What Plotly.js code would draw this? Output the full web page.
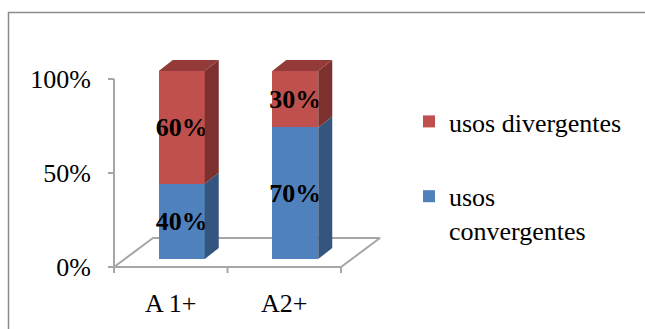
<!DOCTYPE html>
<html>
<head>
<meta charset="utf-8">
<script src="https://cdn.plot.ly/plotly-3.0.1.min.js"></script>
<style>
  html, body { margin: 0; padding: 0; background: #fff; }
  #chart { width: 645px; height: 329px; }
</style>
</head>
<body>
<div id="chart"></div>
<script>
// ---- data ----
const categories = ['A 1+', 'A2+'];
const convergentes = [40, 70];
const divergentes = [60, 30];
const seriesNames = ['usos<br>convergentes', 'usos divergentes'];
const yTickVals = [0, 50, 100];
const yTickText = ['0%', '50%', '100%'];

// ---- geometry of the oblique (3-D look) projection ----
const W = 645, H = 329;
const M = { l: 100, r: 225, t: 45, b: 44 };
const plotW = W - M.l - M.r, plotH = H - M.t - M.b;
const PX_X = 113.5;              // pixels per category slot
const PX_Y = 1.88;               // pixels per percent
const originX = 114, originY = 267;   // pixel spot of the front-left floor corner
const xRange = [-0.5 - (originX - M.l) / PX_X, -0.5 + (M.l + plotW - originX) / PX_X];
const yRange = [-(M.t + plotH - originY) / PX_Y, (originY - M.t) / PX_Y];

const floorDepth = [39 / PX_X, 29 / PX_Y];   // floor receding offset
const barFront = [11 / PX_X, 8 / PX_Y];      // bars stand a little behind the floor front
const barDepth = [14 / PX_X, 11 / PX_Y];     // thickness of each column
const barWidth = 46 / PX_X;

const FONT = '"Liberation Serif", "Times New Roman", serif';
const FS = 26;
const GRID = '#A6A6A6';
const colors = {
  front: ['#4F81BD', '#C0504D'],
  side:  ['#34557E', '#7D312F'],
  top:   ['#41699A', '#943B39']
};

const idx = categories.map((_, i) => i);
const stacks = [convergentes, divergentes];

// floor outline
const x0 = -0.5, x1 = categories.length - 0.5;
const floor = {
  x: [x0, x1, x1 + floorDepth[0], x0 + floorDepth[0], x0],
  y: [0, 0, floorDepth[1], floorDepth[1], 0],
  mode: 'lines', line: { color: GRID, width: 2 },
  hoverinfo: 'skip', showlegend: false, xaxis: 'x', yaxis: 'y'
};

// vertical value axis line
const valueAxis = {
  x: [x0, x0], y: [yTickVals[0], yTickVals[yTickVals.length - 1]],
  mode: 'lines', line: { color: GRID, width: 2 },
  hoverinfo: 'skip', showlegend: false, xaxis: 'x', yaxis: 'y'
};

// category boundary tick marks along the floor front edge
const tickX = [], tickY = [];
for (let b = 0; b <= categories.length; b++) {
  tickX.push(b - 0.5, b - 0.5, null);
  tickY.push(0, -6 / PX_Y, null);
}
const catTicks = {
  x: tickX, y: tickY, mode: 'lines', line: { color: GRID, width: 2 },
  hoverinfo: 'skip', showlegend: false, xaxis: 'x', yaxis: 'y'
};

// front faces of the stacked columns
const bars = stacks.map((vals, s) => ({
  type: 'bar',
  name: seriesNames[s],
  x: idx, y: vals,
  width: barWidth,
  xaxis: 'x2', yaxis: 'y2',
  marker: { color: colors.front[s], line: { width: 0 } },
  text: vals.map(v => v + '%'),
  textposition: 'inside',
  insidetextanchor: 'middle',
  textangle: 0,
  constraintext: 'none',
  textfont: { family: FONT, size: FS, color: '#000', weight: 'bold' },
  legendgroup: 's' + s,
  legendrank: stacks.length - s,
  hoverinfo: 'skip'
}));

// right-hand sides and tops of the columns
function polyTrace(xs, ys, color) {
  return {
    x: xs, y: ys, mode: 'lines', fill: 'toself', fillcolor: color,
    line: { width: 0, color: color }, hoverinfo: 'skip', showlegend: false,
    xaxis: 'x2', yaxis: 'y2'
  };
}
const faces = [];
stacks.forEach((vals, s) => {
  const sx = [], sy = [];
  idx.forEach(i => {
    const base = stacks.slice(0, s).reduce((a, arr) => a + arr[i], 0);
    const topV = base + vals[i];
    const xr = i + barWidth / 2;
    sx.push(xr, xr + barDepth[0], xr + barDepth[0], xr, null);
    sy.push(base, base + barDepth[1], topV + barDepth[1], topV, null);
  });
  faces.push(polyTrace(sx, sy, colors.side[s]));
});
{
  const s = stacks.length - 1;
  const tx = [], ty = [];
  idx.forEach(i => {
    const total = stacks.reduce((a, arr) => a + arr[i], 0);
    const xl = i - barWidth / 2, xr = i + barWidth / 2;
    tx.push(xl, xr, xr + barDepth[0], xl + barDepth[0], null);
    ty.push(total, total, total + barDepth[1], total + barDepth[1], null);
  });
  faces.push(polyTrace(tx, ty, colors.top[s]));
}

const px2paperX = px => (px - M.l) / plotW;
const px2paperY = py => (M.t + plotH - py) / plotH;

const layout = {
  width: W, height: H,
  margin: M,
  paper_bgcolor: '#fff', plot_bgcolor: 'rgba(0,0,0,0)',
  font: { family: FONT, size: FS, color: '#000' },
  barmode: 'stack',
  showlegend: true,
  xaxis: {
    range: xRange, tickvals: idx, ticktext: categories,
    showgrid: false, zeroline: false, showline: false, ticks: '',
    tickfont: { family: FONT, size: FS, color: '#000' }, fixedrange: true
  },
  yaxis: {
    range: yRange, anchor: 'free', position: px2paperX(originX),
    tickvals: yTickVals, ticktext: yTickText,
    ticks: 'outside', ticklen: 6, tickwidth: 2, tickcolor: GRID,
    ticklabelstandoff: 12,
    showgrid: false, zeroline: false, showline: false,
    tickfont: { family: FONT, size: FS, color: '#000' }, fixedrange: true
  },
  xaxis2: { overlaying: 'x', anchor: 'y2', range: xRange.map(v => v - barFront[0]), visible: false, fixedrange: true },
  yaxis2: { overlaying: 'y', anchor: 'x2', range: yRange.map(v => v - barFront[1]), visible: false, fixedrange: true },
  legend: {
    x: px2paperX(409), xanchor: 'left',
    y: px2paperY(98), yanchor: 'top',
    traceorder: 'grouped', tracegroupgap: 38,
    valign: 'top', bgcolor: 'rgba(0,0,0,0)',
    font: { family: FONT, size: FS, color: '#000' }
  },
  shapes: [{
    type: 'rect', xref: 'paper', yref: 'paper',
    x0: px2paperX(8.5), x1: px2paperX(660),
    y0: px2paperY(340), y1: px2paperY(12.5),
    line: { color: '#8C8C8C', width: 1.5 }, fillcolor: 'rgba(0,0,0,0)', layer: 'below'
  }]
};

Plotly.newPlot('chart', [floor, valueAxis, catTicks, ...bars, ...faces], layout,
  { staticPlot: true, displayModeBar: false });
</script>
</body>
</html>
